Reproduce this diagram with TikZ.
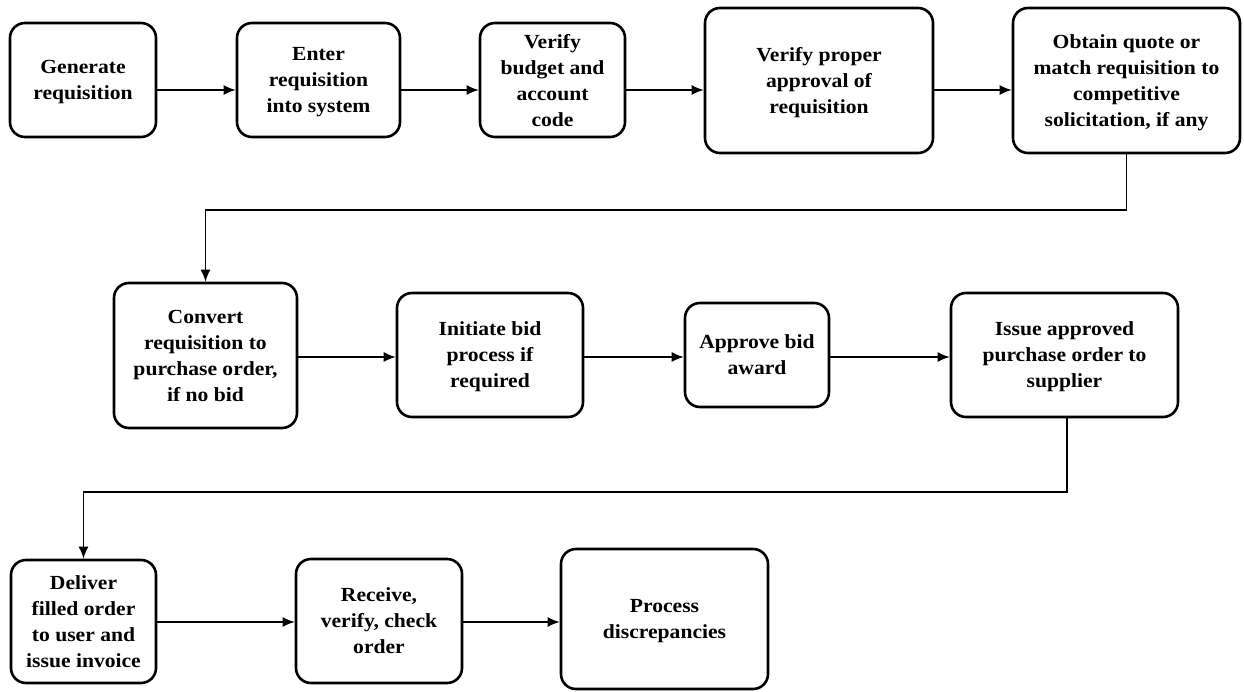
\documentclass[tikz,border=0pt]{standalone}
\usepackage{fontspec}
\setmainfont[FakeStretch=1.08]{Liberation Serif}
\usetikzlibrary{arrows.meta}
\begin{document}
\begin{tikzpicture}[x=1pt,y=1pt,
  stepbox/.style={draw=black, line width=2.6pt, rounded corners=15pt, align=center,
    font=\fontsize{20}{26}\selectfont\bfseries, inner sep=0pt, text depth=0pt},
  flow/.style={draw=black, line width=1.6pt, -{Latex[length=12pt,width=10pt]}}]
\useasboundingbox (0,0) rectangle (1244,-692);
\fill[white] (0,0) rectangle (1244,-692);

% first row
\node[stepbox, minimum width=146pt, minimum height=114pt] (A) at (83,-80) {Generate\\requisition};
\node[stepbox, minimum width=163pt, minimum height=114pt] (B) at (318.5,-80) {Enter\\requisition\\into system};
\node[stepbox, minimum width=145pt, minimum height=114pt] (C) at (552.5,-80) {Verify\\budget and\\account\\code};
\node[stepbox, minimum width=228pt, minimum height=145pt] (D) at (819,-80.5) {Verify proper\\approval of\\requisition};
\node[stepbox, minimum width=227pt, minimum height=145pt] (E) at (1126.5,-80.5) {Obtain quote or\\match requisition to\\competitive\\solicitation, if any};

% second row
\node[stepbox, minimum width=183pt, minimum height=145pt] (F) at (205.5,-355.5) {Convert\\requisition to\\purchase order,\\if no bid};
\node[stepbox, minimum width=186pt, minimum height=124pt] (G) at (490,-355) {Initiate bid\\process if\\required};
\node[stepbox, minimum width=144pt, minimum height=104pt] (H) at (757,-355) {Approve bid\\award};
\node[stepbox, minimum width=227pt, minimum height=124pt] (I) at (1064.5,-355) {Issue approved\\purchase order to\\supplier};

% third row
\node[stepbox, minimum width=145pt, minimum height=123pt] (J) at (83.5,-621.5) {Deliver\\filled order\\to user and\\issue invoice};
\node[stepbox, minimum width=166pt, minimum height=124pt] (K) at (379,-621) {Receive,\\verify, check\\order};
\node[stepbox, minimum width=207pt, minimum height=140pt] (L) at (664.5,-619) {Process\\discrepancies};

% row levels of the connectors
\coordinate (r1) at (0,-90);
\coordinate (r2) at (0,-357);
\coordinate (r3) at (0,-622);
\coordinate (bend1) at (1126.5,-210);
\coordinate (bend2) at (1067,-492);

\draw[flow] (A.east |- r1) -- (B.west |- r1);
\draw[flow] (B.east |- r1) -- (C.west |- r1);
\draw[flow] (C.east |- r1) -- (D.west |- r1);
\draw[flow] (D.east |- r1) -- (E.west |- r1);
\draw[flow] (E.south) -- (bend1) -| (F.north);

\draw[flow] (F.east |- r2) -- (G.west |- r2);
\draw[flow] (G.east |- r2) -- (H.west |- r2);
\draw[flow] (H.east |- r2) -- (I.west |- r2);
\draw[flow] (I.south -| bend2) -- (bend2) -| (J.north);

\draw[flow] (J.east |- r3) -- (K.west |- r3);
\draw[flow] (K.east |- r3) -- (L.west |- r3);
\end{tikzpicture}
\end{document}
